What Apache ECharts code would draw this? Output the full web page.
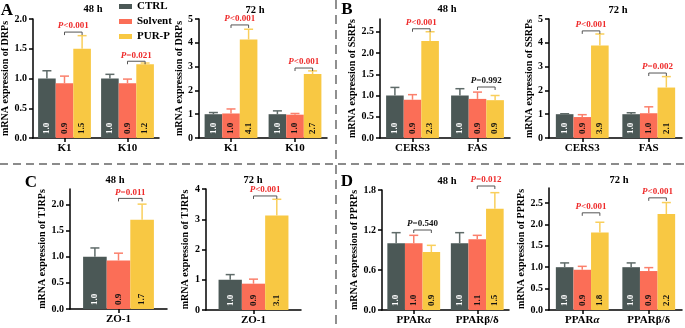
<!DOCTYPE html>
<html><head><meta charset="utf-8">
<script src="https://cdn.jsdelivr.net/npm/echarts@6/dist/echarts.min.js"></script>
<style>html,body{margin:0;padding:0;background:#fff}#c{width:685px;height:328px}</style>
</head><body><div id="c"></div>
<script>
// ---------- DATA ----------
const groupNames = ['CTRL', 'Solvent', 'PUR-P'];

// A: DRPs
const catsA = ['K1', 'K10'];
const a48Mean = [[1.00, 1.00], [0.92, 0.92], [1.50, 1.24]];
const a48Sd   = [[0.13, 0.07], [0.12, 0.07], [0.22, 0.02]];
const a48P = ['P<0.001', 'P=0.021'];
const a48PLevel = [1.78, 1.29];
const a48Ticks = [0, 0.5, 1.0, 1.5, 2.0];

const a72Mean = [[1.00, 1.00], [1.03, 0.98], [4.14, 2.69]];
const a72Sd   = [[0.07, 0.14], [0.19, 0.05], [0.43, 0.13]];
const a72P = ['P<0.001', 'P<0.001'];
const a72PLevel = [4.75, 2.94];
const a72Ticks = [0, 1, 2, 3, 4, 5];

// B: SSRPs
const catsB = ['CERS3', 'FAS'];
const b48Mean = [[1.00, 1.00], [0.90, 0.92], [2.28, 0.89]];
const b48Sd   = [[0.19, 0.16], [0.12, 0.16], [0.22, 0.11]];
const b48P = ['P<0.001', 'P=0.992'];
const b48PLevel = [2.57, 1.20];
const b48Ticks = [0, 0.5, 1.0, 1.5, 2.0, 2.5];

const b72Mean = [[1.00, 1.00], [0.88, 1.04], [3.89, 2.12]];
const b72Sd   = [[0.02, 0.06], [0.10, 0.27], [0.48, 0.46]];
const b72P = ['P<0.001', 'P=0.002'];
const b72PLevel = [4.50, 2.73];
const b72Ticks = [0, 1, 2, 3, 4, 5];

// C: TJRPs
const catsC = ['ZO-1'];
const c48Mean = [[1.00], [0.93], [1.71]];
const c48Sd   = [[0.17], [0.14], [0.30]];
const c48P = ['P=0.011'];
const c48PLevel = [2.12];
const c48Ticks = [0, 0.5, 1.0, 1.5, 2.0];

const c72Mean = [[1.00], [0.87], [3.12]];
const c72Sd   = [[0.17], [0.15], [0.54]];
const c72P = ['P<0.001'];
const c72PLevel = [3.77];
const c72Ticks = [0, 1, 2, 3, 4];

// D: PPRPs
const catsD = ['PPARα', 'PPARβ/δ'];
const d48Mean = [[1.00, 1.00], [1.00, 1.06], [0.87, 1.52]];
const d48Sd   = [[0.16, 0.16], [0.12, 0.06], [0.10, 0.24]];
const d48P = ['P=0.540', 'P=0.012'];
const d48PLevel = [1.20, 1.86];
const d48Ticks = [0, 0.6, 1.2, 1.8];

const d72Mean = [[1.00, 1.00], [0.94, 0.91], [1.81, 2.24]];
const d72Sd   = [[0.10, 0.10], [0.08, 0.08], [0.24, 0.27]];
const d72P = ['P<0.001', 'P<0.001'];
const d72PLevel = [2.27, 2.62];
const d72Ticks = [0, 0.5, 1.0, 1.5, 2.0, 2.5];

// ---------- STYLE ----------
const FONT = '"Liberation Serif", "Times New Roman", serif';
const barColors = ['#4b5856', '#fb6e57', '#f8c843'];
const errColors = ['#5f6b69', '#fb806c', '#f9cf5c'];
const labelColors = ['#ffffff', '#111111', '#111111'];
const RED = '#ee2a2a';

const panels = [
  {cats: catsA, mean: a48Mean, sd: a48Sd, p: a48P, lv: a48PLevel, ticks: a48Ticks, name: 'mRNA expression of DRPs',
   L: {left: 33, top: 19, width: 126, height: 119, bw: 17.6, gap: 17, max: 2.0, dec: 1}},
  {cats: catsA, mean: a72Mean, sd: a72Sd, p: a72P, lv: a72PLevel, ticks: a72Ticks, name: 'mRNA expression of DRPs',
   L: {left: 199, top: 19, width: 128, height: 119, bw: 17.6, gap: 11, max: 5, dec: 0}},
  {cats: catsB, mean: b48Mean, sd: b48Sd, p: b48P, lv: b48PLevel, ticks: b48Ticks, name: 'mRNA expression of SSRPs',
   L: {left: 380, top: 19, width: 130, height: 119, bw: 17.6, gap: 17, max: 2.8, dec: 1}},
  {cats: catsB, mean: b72Mean, sd: b72Sd, p: b72P, lv: b72PLevel, ticks: b72Ticks, name: 'mRNA expression of SSRPs',
   L: {left: 549, top: 19, width: 133, height: 119, bw: 17.6, gap: 9, max: 5, dec: 0}},
  {cats: catsC, mean: c48Mean, sd: c48Sd, p: c48P, lv: c48PLevel, ticks: c48Ticks, name: 'mRNA expression of TJRPs',
   L: {left: 70, top: 189, width: 97, height: 120, bw: 23.6, gap: 22, max: 2.3, dec: 1}},
  {cats: catsC, mean: c72Mean, sd: c72Sd, p: c72P, lv: c72PLevel, ticks: c72Ticks, name: 'mRNA expression of TJRPs',
   L: {left: 206, top: 189, width: 95, height: 121, bw: 23.3, gap: 16, max: 4, dec: 0}},
  {cats: catsD, mean: d48Mean, sd: d48Sd, p: d48P, lv: d48PLevel, ticks: d48Ticks, name: 'mRNA expression of PPRPs',
   L: {left: 382, top: 190, width: 127, height: 120, bw: 17.6, gap: 23, max: 1.8, dec: 1}},
  {cats: catsD, mean: d72Mean, sd: d72Sd, p: d72P, lv: d72PLevel, ticks: d72Ticks, name: 'mRNA expression of PPRPs',
   L: {left: 549, top: 188, width: 133, height: 122, bw: 17.6, gap: 9, max: 2.85, dec: 1}}
];

const axisLineStyle = {color: '#000', width: 1.5};
const boldText = {fontFamily: FONT, fontWeight: 'bold', color: '#000'};

const grids = [], xAxes = [], yAxes = [], series = [];
panels.forEach((P, i) => {
  const L = P.L;
  grids.push({left: L.left, top: L.top, width: L.width, height: L.height, containLabel: false, outerBoundsMode: 'none'});
  xAxes.push({
    type: 'category', gridIndex: i, data: P.cats,
    axisLine: {show: true, lineStyle: axisLineStyle},
    axisTick: {show: true, alignWithLabel: true, length: 4, lineStyle: axisLineStyle},
    axisLabel: Object.assign({}, boldText, {fontSize: 11, margin: 5, interval: 0,
      formatter: v => v.replace('α', '{i|α}'),
      rich: {i: {fontFamily: FONT, fontWeight: 'bold', fontStyle: 'italic', fontSize: 11, color: '#000'}}}),
    splitLine: {show: false}
  });
  yAxes.push({
    type: 'value', gridIndex: i, min: 0, max: L.max,
    axisLine: {show: true, lineStyle: axisLineStyle},
    axisTick: {show: true, length: 4, lineStyle: axisLineStyle, customValues: P.ticks},
    axisLabel: Object.assign({}, boldText, {fontSize: 10, margin: 6, customValues: P.ticks,
      formatter: v => Number(v).toFixed(L.dec)}),
    splitLine: {show: false},
    name: P.name, nameLocation: 'middle', nameGap: L.gap,
    nameTextStyle: Object.assign({}, boldText, {fontSize: 10})
  });
  for (let g = 0; g < 3; g++) {
    series.push({
      type: 'bar', name: groupNames[g], xAxisIndex: i, yAxisIndex: i,
      data: P.mean[g], barWidth: L.bw, barGap: '0%',
      itemStyle: {color: barColors[g]},
      label: {show: true, position: 'insideBottom', rotate: 90, align: 'left', verticalAlign: 'middle',
        distance: 4, formatter: p => Number(p.value).toFixed(1),
        color: labelColors[g], fontFamily: FONT, fontWeight: 'bold', fontSize: 9},
      z: 2
    });
  }
  const errData = [];
  for (let g = 0; g < 3; g++) {
    P.mean[g].forEach((m, c) => errData.push([c, m, P.sd[g][c], g]));
  }
  series.push({
    type: 'custom', xAxisIndex: i, yAxisIndex: i, data: errData, encode: {x: 0, y: 1}, clip: false, z: 3,
    silent: true,
    renderItem: (params, api) => {
      const c = api.value(0), m = api.value(1), s = api.value(2), g = api.value(3);
      const b = api.coord([c, m]);
      const t = api.coord([c, m + s]);
      const x = b[0] + (g - 1) * L.bw;
      const col = errColors[g];
      return {type: 'group', children: [
        {type: 'line', shape: {x1: x, y1: b[1], x2: x, y2: t[1]}, style: {stroke: col, lineWidth: 1.5}},
        {type: 'line', shape: {x1: x - 4.5, y1: t[1], x2: x + 4.5, y2: t[1]}, style: {stroke: col, lineWidth: 1.5}}
      ]};
    }
  });
  const annData = P.lv.map((lv, c) => [c, lv, c]);
  series.push({
    type: 'custom', xAxisIndex: i, yAxisIndex: i, data: annData, encode: {x: 0, y: 1}, clip: false, z: 4,
    silent: true,
    renderItem: (params, api) => {
      const c = api.value(0), lv = api.value(1), k = api.value(2);
      const pt = api.coord([c, lv]);
      const x1 = pt[0], x2 = pt[0] + L.bw, y = pt[1];
      const txt = P.p[k];
      const sig = txt.indexOf('<') >= 0 || parseFloat(txt.slice(2)) < 0.05;
      const col = sig ? RED : '#111';
      return {type: 'group', children: [
        {type: 'polyline', shape: {points: [[x1, y + 3], [x1, y], [x2, y], [x2, y + 3]]},
          style: {stroke: '#555', lineWidth: 1, fill: null}},
        {type: 'text', style: {
          x: (x1 + x2) / 2, y: y - 1.5, align: 'center', verticalAlign: 'bottom',
          text: '{i|P}{n|' + txt.slice(1) + '}',
          rich: {
            i: {fontFamily: FONT, fontWeight: 'bold', fontStyle: 'italic', fontSize: 9, fill: col, color: col},
            n: {fontFamily: FONT, fontWeight: 'bold', fontSize: 9, fill: col, color: col}
          }
        }}
      ]};
    }
  });
});

function txt(x, y, s, size) {
  return {type: 'text', x: x, y: y, silent: true, style: {
    text: s, fill: '#000', font: 'bold ' + size + 'px ' + FONT,
    align: 'center', textAlign: 'center', verticalAlign: 'middle', textVerticalAlign: 'middle'}};
}

const graphics = [
  {type: 'line', shape: {x1: 0, y1: 164, x2: 685, y2: 164}, silent: true,
    style: {stroke: '#666', lineWidth: 1.3, lineDash: [8, 5]}},
  {type: 'line', shape: {x1: 336, y1: 0, x2: 336, y2: 328}, silent: true,
    style: {stroke: '#555', lineWidth: 1.3, lineDash: [9, 6]}},
  txt(7, 11, 'A', 17), txt(347, 10, 'B', 17), txt(31, 183, 'C', 17), txt(347, 182, 'D', 17),
  txt(93, 9, '48 h', 10.5), txt(255, 10, '72 h', 10.5),
  txt(447, 9, '48 h', 10.5), txt(618, 10, '72 h', 10.5),
  txt(115, 180, '48 h', 10.5), txt(253, 180, '72 h', 10.5),
  txt(447, 181, '48 h', 10.5), txt(619, 180, '72 h', 10.5)
];

const chart = echarts.init(document.getElementById('c'), null, {renderer: 'canvas'});
chart.setOption({
  animation: false,
  backgroundColor: '#fff',
  legend: {
    data: groupNames, orient: 'vertical', left: 119, top: 1, padding: 0,
    itemWidth: 13, itemHeight: 5, itemGap: 4, icon: 'rect', selectedMode: false,
    textStyle: {fontFamily: FONT, fontWeight: 'bold', fontSize: 11, color: '#000', lineHeight: 11}
  },
  grid: grids, xAxis: xAxes, yAxis: yAxes, series: series, graphic: graphics
});
</script></body></html>
